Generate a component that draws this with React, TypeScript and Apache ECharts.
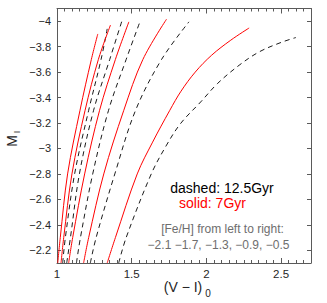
import React, { useEffect, useRef } from "react";
import * as echarts from "echarts";

// [Fe/H] values, left to right
const feHLabels = ["−2.1", "−1.7", "−1.3", "−0.9", "−0.5"];

// Isochrones: [ (V-I)_0, M_I ]
const solid7_m21 = [[1.005, -2.1], [1.022, -2.3], [1.071, -2.8], [1.154, -3.3], [1.23, -3.7], [1.273, -3.9]];
const solid7_m17 = [[1.027, -2.1], [1.045, -2.3], [1.1, -2.8], [1.188, -3.3], [1.277, -3.7], [1.358, -3.97]];
const solid7_m13 = [[1.078, -2.1], [1.105, -2.3], [1.185, -2.8], [1.285, -3.3], [1.391, -3.7], [1.481, -3.995]];
const solid7_m09 = [[1.178, -2.1], [1.212, -2.3], [1.313, -2.8], [1.447, -3.3], [1.575, -3.7], [1.733, -4.016]];
const solid7_m05 = [[1.336, -2.1], [1.391, -2.3], [1.537, -2.8], [1.64, -3.05], [1.755, -3.3], [1.83, -3.45], [1.925, -3.6], [2.035, -3.733], [2.163, -3.851], [2.286, -3.947]];

const dashed125_m21 = [[1.038, -2.1], [1.056, -2.3], [1.118, -2.8], [1.212, -3.3], [1.295, -3.7], [1.336, -3.94]];
const dashed125_m17 = [[1.065, -2.1], [1.09, -2.3], [1.15, -2.8], [1.245, -3.3], [1.353, -3.7], [1.436, -4.008]];
const dashed125_m13 = [[1.13, -2.1], [1.157, -2.3], [1.239, -2.8], [1.345, -3.3], [1.463, -3.7], [1.559, -4.008]];
const dashed125_m09 = [[1.223, -2.1], [1.262, -2.3], [1.387, -2.8], [1.526, -3.3], [1.7, -3.7], [1.883, -3.995]];
const dashed125_m05 = [[1.413, -2.1], [1.463, -2.3], [1.631, -2.8], [1.73, -3.02], [1.827, -3.196], [1.962, -3.366], [2.074, -3.51], [2.219, -3.654], [2.353, -3.759], [2.499, -3.833], [2.599, -3.872]];

const solidCurves = [solid7_m21, solid7_m17, solid7_m13, solid7_m09, solid7_m05];
const dashedCurves = [dashed125_m21, dashed125_m17, dashed125_m13, dashed125_m09, dashed125_m05];

// Axis ticks
const xMajorTicks = [1, 1.5, 2, 2.5];
const xMinorTicks = [1, 1.05, 1.1, 1.15, 1.2, 1.25, 1.3, 1.35, 1.4, 1.45, 1.5, 1.55, 1.6, 1.65, 1.7, 1.75, 1.8, 1.85, 1.9, 1.95, 2, 2.05, 2.1, 2.15, 2.2, 2.25, 2.3, 2.35, 2.4, 2.45, 2.5, 2.55, 2.6, 2.65];
const yTicks = [-4, -3.8, -3.6, -3.4, -3.2, -3, -2.8, -2.6, -2.4, -2.2];
const yTickLabels = ["−4", "−3.8", "−3.6", "−3.4", "−3.2", "−3", "−2.8", "−2.6", "−2.4", "−2.2"];
const xTickLabels = ["1", "1.5", "2", "2.5"];

const FONT = "Liberation Sans, Arial, Helvetica, sans-serif";
const AXIS_COLOR = "#5a5a5a";
const LABEL_COLOR = "#262626";

export default function App() {
  const ref = useRef<HTMLDivElement>(null);
  useEffect(() => {
    document.body.style.margin = "0";
    const chart = echarts.init(ref.current!, null, { renderer: "svg" });
    const grid = { left: 57, right: 16, top: 8.5, bottom: 40 };
    const xBase = {
      type: "value",
      min: 1,
      max: 2.7,
      axisLine: { show: true, onZero: false, lineStyle: { color: AXIS_COLOR, width: 1 } },
      splitLine: { show: false },
    };
    const yBase = {
      type: "value",
      min: -4.1,
      max: -2.1,
      inverse: true,
      axisLine: { show: true, onZero: false, lineStyle: { color: AXIS_COLOR, width: 1 } },
      splitLine: { show: false },
    };
    const series: any[] = [];
    dashedCurves.forEach((d, i) => {
      series.push({
        type: "line",
        name: "12.5Gyr " + feHLabels[i],
        data: d,
        smooth: 0.35,
        showSymbol: false,
        symbol: "none",
        lineStyle: { color: "#000000", width: 0.9, type: [5, 4] },
        z: 2,
      });
    });
    solidCurves.forEach((d, i) => {
      series.push({
        type: "line",
        name: "7Gyr " + feHLabels[i],
        data: d,
        smooth: 0.35,
        showSymbol: false,
        symbol: "none",
        lineStyle: { color: "#ff0000", width: 1 },
        z: 3,
      });
    });
    chart.setOption({
      animation: false,
      backgroundColor: "#ffffff",
      grid,
      xAxis: [
        {
          ...xBase,
          position: "bottom",
          axisTick: { show: true, inside: true, length: 3, customValues: xMinorTicks, lineStyle: { color: AXIS_COLOR } },
          axisLabel: {
            show: true,
            customValues: xMajorTicks,
            margin: 5,
            fontSize: 11.5,
            color: LABEL_COLOR,
            fontFamily: FONT,
            formatter: (v: number) => xTickLabels[xMajorTicks.findIndex((t) => Math.abs(t - v) < 1e-6)] ?? "",
          },
        },
        {
          ...xBase,
          position: "top",
          axisTick: { show: true, inside: true, length: 3, customValues: xMinorTicks, lineStyle: { color: AXIS_COLOR } },
          axisLabel: { show: false },
        },
        {
          ...xBase,
          position: "bottom",
          axisLine: { show: false },
          axisTick: { show: true, inside: true, length: 5, customValues: xMajorTicks, lineStyle: { color: AXIS_COLOR } },
          axisLabel: { show: false },
        },
        {
          ...xBase,
          position: "top",
          axisLine: { show: false },
          axisTick: { show: true, inside: true, length: 5, customValues: xMajorTicks, lineStyle: { color: AXIS_COLOR } },
          axisLabel: { show: false },
        },
      ],
      yAxis: [
        {
          ...yBase,
          position: "left",
          axisTick: { show: true, inside: true, length: 4, customValues: yTicks, lineStyle: { color: AXIS_COLOR } },
          axisLabel: {
            show: true,
            customValues: yTicks,
            margin: 6,
            fontSize: 11,
            color: LABEL_COLOR,
            fontFamily: FONT,
            formatter: (v: number) => yTickLabels[yTicks.findIndex((t) => Math.abs(t - v) < 1e-6)] ?? "",
          },
        },
        {
          ...yBase,
          position: "right",
          axisTick: { show: true, inside: true, length: 4, customValues: yTicks, lineStyle: { color: AXIS_COLOR } },
          axisLabel: { show: false },
        },
      ],
      series,
      graphic: [
        { type: "text", x: 12, y: 141, rotation: Math.PI / 2, style: { text: "M", fontSize: 14, fontFamily: FONT, fill: LABEL_COLOR, align: "center", verticalAlign: "middle" } },
        { type: "text", x: 17, y: 132, rotation: Math.PI / 2, style: { text: "I", fontSize: 9, fontFamily: FONT, fill: LABEL_COLOR, align: "center", verticalAlign: "middle" } },
        { type: "text", x: 183, y: 287, style: { text: "(V − I)", fontSize: 14, fontFamily: FONT, fill: LABEL_COLOR, align: "center", verticalAlign: "middle" } },
        { type: "text", x: 208, y: 293, style: { text: "0", fontSize: 10, fontFamily: FONT, fill: LABEL_COLOR, align: "center", verticalAlign: "middle" } },
        { type: "text", x: 222, y: 188, style: { text: "dashed: 12.5Gyr", fontSize: 14, fontFamily: FONT, fill: "#000000", align: "center", verticalAlign: "middle" } },
        { type: "text", x: 212.5, y: 203, style: { text: "solid: 7Gyr", fontSize: 14, fontFamily: FONT, fill: "#ff0000", align: "center", verticalAlign: "middle" } },
        { type: "text", x: 222.5, y: 229, style: { text: "[Fe/H] from left to right:", fontSize: 12, fontFamily: FONT, fill: "#6e6e6e", align: "center", verticalAlign: "middle" } },
        { type: "text", x: 218.5, y: 245, style: { text: feHLabels[0] + " " + feHLabels.slice(1).join(", "), fontSize: 12, fontFamily: FONT, fill: "#6e6e6e", align: "center", verticalAlign: "middle" } },
      ],
    });
    return () => chart.dispose();
  }, []);
  return <div ref={ref} style={{ position: "fixed", left: 0, top: 0, width: 327, height: 303 }} />;
}
